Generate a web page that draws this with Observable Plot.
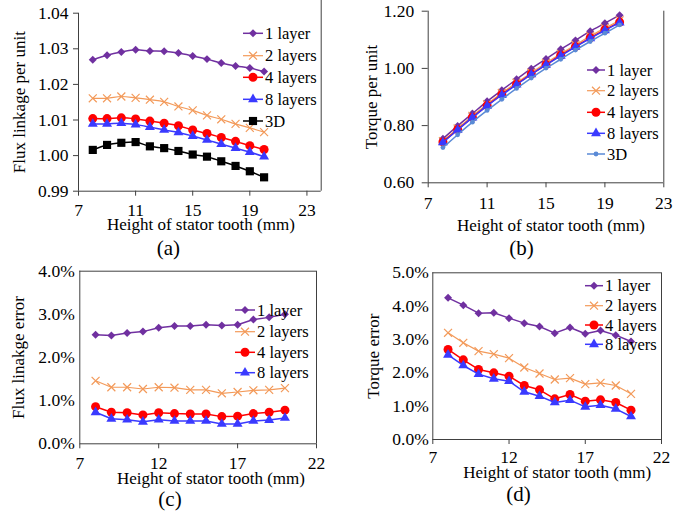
<!DOCTYPE html>
<html>
<head>
<meta charset="utf-8">
<script src="https://cdn.jsdelivr.net/npm/d3@7"></script>
<script src="https://cdn.jsdelivr.net/npm/@observablehq/plot@0.6"></script>
<style>
  html, body { margin: 0; padding: 0; background: #fff; }
  #fig { position: relative; width: 693px; height: 516px; overflow: hidden; background: #fff; }
  #fig svg { position: absolute; left: 0; top: 0; }
</style>
</head>
<body>
<div id="fig"></div>
<script>
// Height of stator tooth (mm)
const heights = [8, 9, 10, 11, 12, 13, 14, 15, 16, 17, 18, 19, 20];

// (a) Flux linkage per unit
const flux1Layer  = [1.0269, 1.0282, 1.0291, 1.0297, 1.0294, 1.0293, 1.0288, 1.0280, 1.0271, 1.0260, 1.0252, 1.0246, 1.0236];
const flux2Layers = [1.0161, 1.0161, 1.0166, 1.0162, 1.0157, 1.0151, 1.0138, 1.0127, 1.0113, 1.0102, 1.0089, 1.0078, 1.0066];
const flux4Layers = [1.0104, 1.0104, 1.0106, 1.0103, 1.0097, 1.0091, 1.0084, 1.0072, 1.0062, 1.0051, 1.0040, 1.0028, 1.0017];
const flux8Layers = [1.0089, 1.0089, 1.0091, 1.0087, 1.0080, 1.0072, 1.0065, 1.0055, 1.0044, 1.0032, 1.0021, 1.0010, 0.9997];
const flux3D      = [1.0016, 1.0030, 1.0036, 1.0038, 1.0026, 1.0021, 1.0013, 1.0003, 0.9997, 0.9984, 0.9971, 0.9956, 0.9939];

// (b) Torque per unit
const torque1Layer  = [0.754, 0.799, 0.842, 0.885, 0.924, 0.962, 0.999, 1.033, 1.067, 1.098, 1.130, 1.158, 1.186];
const torque2Layers = [0.746, 0.790, 0.834, 0.875, 0.914, 0.950, 0.985, 1.019, 1.051, 1.082, 1.113, 1.141, 1.168];
const torque4Layers = [0.743, 0.786, 0.829, 0.870, 0.909, 0.945, 0.980, 1.013, 1.046, 1.076, 1.107, 1.135, 1.162];
const torque8Layers = [0.741, 0.785, 0.828, 0.869, 0.907, 0.943, 0.979, 1.012, 1.044, 1.075, 1.105, 1.133, 1.160];
const torque3D      = [0.723, 0.768, 0.812, 0.853, 0.892, 0.930, 0.966, 1.001, 1.032, 1.064, 1.094, 1.123, 1.152];

// (c) Flux linkage error (%)
const fluxErr1Layer  = [2.53, 2.51, 2.57, 2.60, 2.69, 2.73, 2.73, 2.76, 2.74, 2.76, 2.88, 2.93, 3.00];
const fluxErr2Layers = [1.46, 1.31, 1.31, 1.27, 1.31, 1.30, 1.25, 1.25, 1.17, 1.20, 1.24, 1.25, 1.29];
const fluxErr4Layers = [0.86, 0.73, 0.72, 0.67, 0.72, 0.70, 0.69, 0.69, 0.63, 0.64, 0.70, 0.73, 0.78];
const fluxErr8Layers = [0.73, 0.58, 0.56, 0.51, 0.56, 0.53, 0.53, 0.53, 0.46, 0.46, 0.53, 0.55, 0.60];

// (d) Torque error (%)
const torqueErr1Layer  = [4.25, 4.03, 3.79, 3.80, 3.64, 3.49, 3.39, 3.19, 3.36, 3.17, 3.27, 3.13, 2.94];
const torqueErr2Layers = [3.20, 2.90, 2.65, 2.56, 2.44, 2.16, 1.98, 1.80, 1.84, 1.66, 1.70, 1.62, 1.37];
const torqueErr4Layers = [2.70, 2.39, 2.10, 2.00, 1.90, 1.62, 1.49, 1.22, 1.35, 1.15, 1.19, 1.11, 0.88];
const torqueErr8Layers = [2.54, 2.22, 1.96, 1.82, 1.75, 1.43, 1.30, 1.11, 1.18, 0.98, 1.03, 0.92, 0.69];

// Axis tick values
const ticksA = [7, 11, 15, 19, 23];
const ticksC = [7, 12, 17, 22];
const yTicksA = [0.99, 1.00, 1.01, 1.02, 1.03, 1.04];
const yTicksB = [0.60, 0.80, 1.00, 1.20];
const yTicksC = [0, 1, 2, 3, 4];
const yTicksD = [0, 1, 2, 3, 4, 5];

const xTitle = "Height of stator tooth (mm)";

// Series appearance
const looks = {
  "1 layer":  {color: "#7030A0", symbol: "diamond2", r: 3.6, filled: true},
  "2 layers": {color: "#F39A5A", symbol: "times", r: 3.7, filled: false},
  "4 layers": {color: "#FF0000", symbol: "circle", r: 4.5, filled: true},
  "8 layers": {color: "#3A3AFF", symbol: "triangle", r: 3.7, filled: true},
  "3D":       {color: "#000000", symbol: "square", r: 4.6, filled: true}
};
const looks3DTorque = {color: "#5A8AD6", symbol: "circle", r: 2.4, filled: true};

const symbolTypes = {
  diamond2: d3.symbolDiamond2, times: d3.symbolTimes, circle: d3.symbolCircle,
  triangle: d3.symbolTriangle, square: d3.symbolSquare
};

const W = 693, H = 516;
const axisColor = "#404040";
const fontFamily = "'Liberation Serif', 'Times New Roman', serif";
const tickFont = 17.5, titleFont = 17, legendFont = 16.5, tagFont = 21;

function drawPanel(cfg) {
  const [L, R, T, B] = cfg.frame;
  const marks = [];
  // axis lines and plot-area border
  marks.push(Plot.ruleY([cfg.yDomain[0]], {stroke: axisColor, strokeWidth: 1}));
  marks.push(Plot.ruleX([cfg.xDomain[0]], {stroke: axisColor, strokeWidth: 1}));
  marks.push(Plot.ruleX([cfg.xDomain[1]], {stroke: axisColor, strokeWidth: 1, y1: cfg.yDomain[0], y2: cfg.rightTop ?? cfg.yDomain[1]}));
  if (cfg.topBorder) marks.push(Plot.ruleY([cfg.yDomain[1]], {stroke: axisColor, strokeWidth: 1}));
  marks.push(Plot.axisX({ticks: cfg.xTicks, tickFormat: d => String(d), tickSize: 5, tickPadding: cfg.xPad, label: null, stroke: axisColor, fill: "#000", fontSize: tickFont}));
  marks.push(Plot.axisY({ticks: cfg.yTicks, tickFormat: cfg.yFormat, tickSize: cfg.yTickSize, tickPadding: cfg.yPad, label: null, stroke: axisColor, fill: "#000", fontSize: tickFont}));
  for (const s of cfg.series) {
    const rows = heights.map((h, i) => ({h, v: s.values[i]}));
    const lk = s.look;
    marks.push(Plot.line(rows, {x: "h", y: "v", stroke: lk.color, strokeWidth: s.width ?? 1.5, curve: cfg.curve}));
    marks.push(Plot.dot(rows, lk.filled
      ? {x: "h", y: "v", symbol: lk.symbol, r: lk.r, fill: lk.color, stroke: "none"}
      : {x: "h", y: "v", symbol: lk.symbol, r: lk.r, fill: "none", stroke: lk.color, strokeWidth: 1.2}));
  }
  // titles and panel tag
  marks.push(Plot.text([xTitle], {frameAnchor: "bottom", textAnchor: "middle", dx: cfg.xTitleDx, dy: cfg.xTitleDy, lineAnchor: "middle", fontSize: titleFont, fill: "#000"}));
  marks.push(Plot.text([cfg.yTitle], {frameAnchor: "left", textAnchor: "middle", dx: cfg.yTitleDx, rotate: -90, lineAnchor: "middle", fontSize: titleFont, fill: "#000"}));
  marks.push(Plot.text([cfg.tag], {frameAnchor: "bottom", textAnchor: "middle", dx: cfg.tagDx, dy: cfg.tagDy, lineAnchor: "middle", fontSize: tagFont, fill: "#000"}));

  const svg = Plot.plot({
    width: W, height: H,
    marginLeft: L, marginRight: W - R, marginTop: T, marginBottom: H - B,
    x: {domain: cfg.xDomain},
    y: {domain: cfg.yDomain},
    style: {fontFamily, fontSize: "17px", background: "transparent", overflow: "visible"},
    marks
  });

  // legend
  const lg = cfg.legend;
  const g = d3.select(svg).append("g").attr("font-family", fontFamily).attr("font-size", legendFont);
  cfg.series.forEach((s, i) => {
    const y = lg.ys[i];
    const lk = s.look;
    g.append("line").attr("x1", lg.x0).attr("x2", lg.x1).attr("y1", y).attr("y2", y)
      .attr("stroke", lk.color).attr("stroke-width", s.width ?? 1.5);
    const p = d3.symbol(symbolTypes[lk.symbol], Math.PI * lk.r * lk.r)();
    const m = g.append("path").attr("d", p).attr("transform", `translate(${(lg.x0 + lg.x1) / 2},${y})`);
    if (lk.filled) m.attr("fill", lk.color);
    else m.attr("fill", "none").attr("stroke", lk.color).attr("stroke-width", 1.2);
    g.append("text").attr("x", lg.tx).attr("y", y).attr("dy", "0.34em").attr("fill", "#000")
      .attr("text-anchor", "start").text(s.name);
  });
  document.getElementById("fig").appendChild(svg);
}

// (a)
drawPanel({
  frame: [78, 320.7, 12.7, 190.7],
  xDomain: [7, 24], xTicks: ticksA, xPad: 7,
  yDomain: [0.99, 1.04], yTicks: yTicksA, yFormat: d3.format(".2f"), yTickSize: 5, yPad: 5,
  rightTop: 1.0436,
  curve: "catmull-rom",
  series: [
    {name: "1 layer", values: flux1Layer, look: looks["1 layer"]},
    {name: "2 layers", values: flux2Layers, look: looks["2 layers"], width: 1.2},
    {name: "4 layers", values: flux4Layers, look: looks["4 layers"]},
    {name: "8 layers", values: flux8Layers, look: looks["8 layers"]},
    {name: "3D", values: flux3D, look: looks["3D"]}
  ],
  yTitle: "Flux linkage per unit",
  xTitleDx: 1, xTitleDy: 33.5, yTitleDx: -59,
  tag: "(a)", tagDx: -31.4, tagDy: 57,
  legend: {x0: 243, x1: 263, tx: 265, ys: [33.3, 55.7, 77.3, 99.3, 121]}
});

// (b)
drawPanel({
  frame: [427.7, 663.3, 10.7, 182.3],
  xDomain: [7, 23], xTicks: ticksA, xPad: 8.5,
  yDomain: [0.6, 1.2], yTicks: yTicksB, yFormat: d3.format(".2f"), yTickSize: 6, yPad: 8,
  curve: "catmull-rom",
  series: [
    {name: "1 layer", values: torque1Layer, look: looks["1 layer"]},
    {name: "2 layers", values: torque2Layers, look: looks["2 layers"], width: 1.2},
    {name: "4 layers", values: torque4Layers, look: looks["4 layers"]},
    {name: "8 layers", values: torque8Layers, look: looks["8 layers"]},
    {name: "3D", values: torque3D, look: looks3DTorque}
  ],
  yTitle: "Torque per unit",
  xTitleDx: 5, xTitleDy: 43, yTitleDx: -56.8,
  tag: "(b)", tagDx: -24.5, tagDy: 65,
  legend: {x0: 587, x1: 605, tx: 607, ys: [70, 90.7, 112.3, 133.3, 154]}
});

// (c)
drawPanel({
  frame: [79.3, 316, 270.7, 443.3],
  xDomain: [7, 22], xTicks: ticksC, xPad: 8,
  yDomain: [0, 4], yTicks: yTicksC, yFormat: d => d.toFixed(1) + "%", yTickSize: 0, yPad: 5,
  curve: "linear", topBorder: true,
  series: [
    {name: "1 layer", values: fluxErr1Layer, look: looks["1 layer"]},
    {name: "2 layers", values: fluxErr2Layers, look: looks["2 layers"], width: 1.2},
    {name: "4 layers", values: fluxErr4Layers, look: looks["4 layers"]},
    {name: "8 layers", values: fluxErr8Layers, look: looks["8 layers"]}
  ],
  yTitle: "Flux linakge error",
  xTitleDx: 12.85, xTitleDy: 35, yTitleDx: -61.7,
  tag: "(c)", tagDx: -28.15, tagDy: 55,
  legend: {x0: 235, x1: 255, tx: 257, ys: [310, 331.7, 352.3, 372.7]}
});

// (d)
drawPanel({
  frame: [432.3, 661, 272.3, 439],
  xDomain: [7, 22], xTicks: ticksC, xPad: 6,
  yDomain: [0, 5], yTicks: yTicksD, yFormat: d => d.toFixed(1) + "%", yTickSize: 0, yPad: 4,
  curve: "linear", topBorder: true,
  series: [
    {name: "1 layer", values: torqueErr1Layer, look: looks["1 layer"]},
    {name: "2 layers", values: torqueErr2Layers, look: looks["2 layers"], width: 1.2},
    {name: "4 layers", values: torqueErr4Layers, look: looks["4 layers"]},
    {name: "8 layers", values: torqueErr8Layers, look: looks["8 layers"]}
  ],
  yTitle: "Torque error",
  xTitleDx: 10, xTitleDy: 33.5, yTitleDx: -59.7,
  tag: "(d)", tagDx: -28.65, tagDy: 54.5,
  legend: {x0: 585, x1: 603, tx: 605, ys: [285.7, 305.7, 325, 344.3]}
});
</script>
</body>
</html>
